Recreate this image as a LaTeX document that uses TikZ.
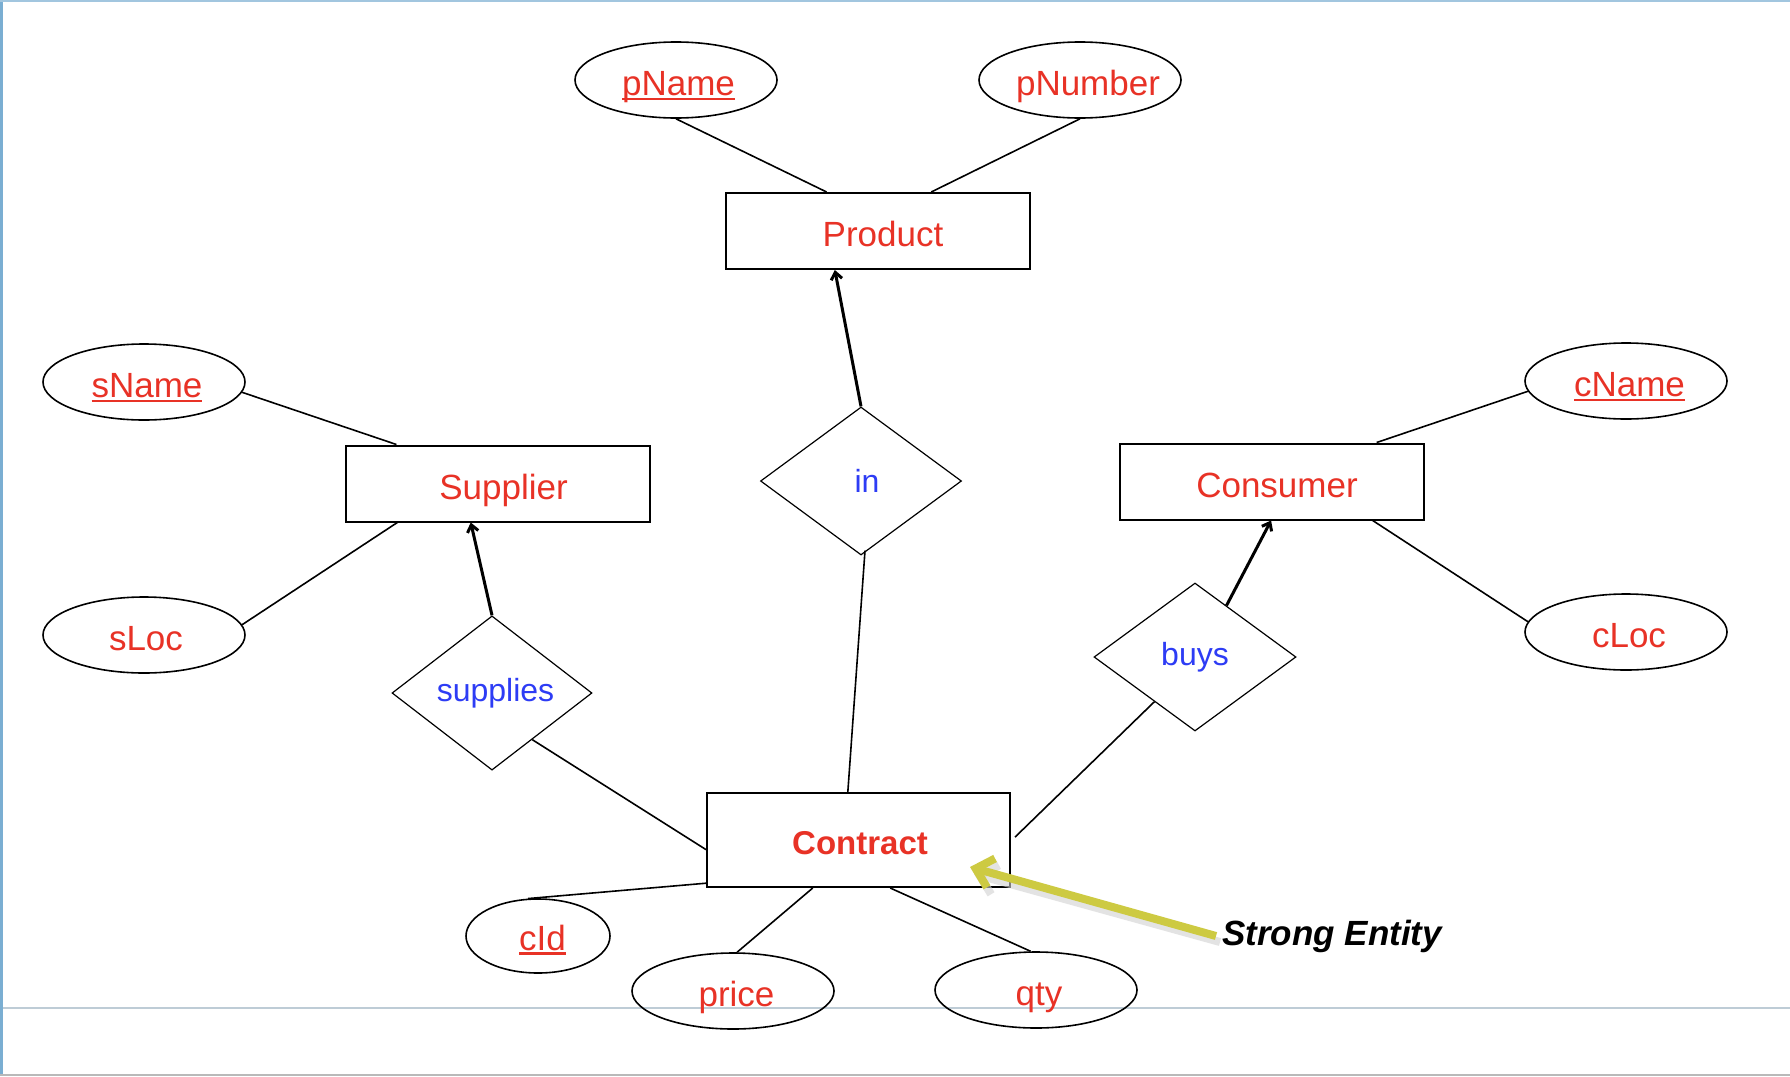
\documentclass[tikz,border=0pt]{standalone}
\usepackage{fontspec}
\setmainfont{Liberation Sans}
\usetikzlibrary{shapes.geometric,arrows.meta,calc}
\definecolor{ered}{RGB}{232,50,38}
\definecolor{rblue}{RGB}{45,60,245}
\definecolor{ayellow}{RGB}{205,202,66}
\definecolor{frameblue}{RGB}{122,174,210}
\definecolor{rulegray}{RGB}{190,204,214}
\newcommand\keyattr[1]{\setbox0\hbox{#1}\rlap{\rule[-4.5pt]{\wd0}{2.5pt}}\box0}
\begin{document}
\begin{tikzpicture}[x=1pt,y=-1pt,
  ent/.style={draw, line width=2pt, rectangle, minimum width=304pt, minimum height=76pt, inner sep=0pt, text=ered, font=\fontsize{35}{40}\selectfont, text height=33pt, text depth=2pt},
  attr/.style={draw, line width=1.6pt, ellipse, minimum width=202pt, minimum height=76pt, inner sep=0pt, text=ered, font=\fontsize{35}{40}\selectfont, text height=33pt, text depth=2pt},
  rel/.style={draw, line width=1.2pt, diamond, minimum width=201pt, minimum height=148pt, inner sep=0pt, text=rblue, font=\fontsize{32}{38}\selectfont},
  link/.style={line width=1.6pt},
  tolink/.style={line width=3pt, -{Straight Barb[length=7pt,width=11pt]}},
]
\fill[white] (0,0) rectangle (1790,1076);
\useasboundingbox (0,0) rectangle (1790,1076);
\fill[frameblue] (0,0) rectangle (3,1076);
\fill[frameblue!70] (0,0) rectangle (1790,2);
\draw[rulegray, line width=1.2pt] (3,1008) -- (1790,1008);
\draw[gray!55, line width=1.5pt] (0,1075) -- (1790,1075);

% entities
\node[ent] (P) at (878,231) {\kern10pt Product};
\node[ent] (S) at (498,483.5) {\kern11pt Supplier};
\node[ent] (Co) at (1272,481.5) {\kern10pt Consumer};
\node[ent, minimum width=303pt, minimum height=94pt, font=\bfseries\fontsize{33}{40}\selectfont, text height=29pt, text depth=1pt] (C) at (858.5,840) {\kern3pt Contract};

% attributes
\node[attr] (pName) at (676,80) {\kern5pt\keyattr{pName}};
\node[attr] (pNumber) at (1080,80) {\makebox[0pt]{\kern16pt pNumber}};
\node[attr] (sName) at (144,382) {\kern6pt\keyattr{sName}};
\node[attr] (sLoc) at (144,635) {\kern4pt sLoc};
\node[attr] (cName) at (1626,381) {\kern7pt\keyattr{cName}};
\node[attr] (cLoc) at (1626,632) {\kern6pt cLoc};
\node[attr, minimum width=144pt, minimum height=74pt, text height=30pt] (cId) at (538,936) {\kern9pt\keyattr{cId}};
\node[attr] (price) at (733,991) {\kern7pt price};
\node[attr] (qty) at (1036,990) {\kern6pt qty};

% relationships
\node[rel] (in) at (861,481) {\kern12pt in};
\node[rel, minimum width=200pt, minimum height=146pt] (sup) at (492,693) {\kern7pt supplies};
\node[rel, minimum width=202pt, minimum height=148pt] (buys) at (1195,657) {buys};

% attribute links
\draw[link] (pName.south) -- ($(P.north west)!0.332!(P.north east)$);
\draw[link] (pNumber.south) -- ($(P.north west)!0.674!(P.north east)$);
\draw[link] (sName.-6) -- ($(S.north west)!0.168!(S.north east)$);
\draw[link] (sLoc.6) -- ($(S.south west)!0.171!(S.south east)$);
\draw[link] (cName.186) -- ($(Co.north west)!0.842!(Co.north east)$);
\draw[link] (cLoc.174) -- ($(Co.south west)!0.829!(Co.south east)$);
\draw[link] ($(C.north west)!0.95!(C.south west)$) -- (cId.105);
\draw[link] ($(C.south west)!0.35!(C.south east)$) -- (price.84);
\draw[link] ($(C.south west)!0.604!(C.south east)$) -- (qty.98);

% relationship links
\draw[tolink] (in.north) -- ($(P.south west)!0.359!(P.south east)$);
\draw[link] ($(in.south)+(4,-5)$) -- ($(C.north west)!0.465!(C.north east)$);
\draw[tolink] (sup.north) -- ($(S.south west)!0.411!(S.south east)$);
\draw[link] ($(sup.east)!0.6!(sup.south)$) -- ($(C.north west)!0.6!(C.south west)$);
\draw[tolink] ($(buys.north)!0.31!(buys.east)$) -- ($(Co.south west)!0.497!(Co.south east)$);
\draw[link] ($(buys.west)!0.6!(buys.south)$) -- ($(C.north east)!0.47!(C.south east)+(4,0)$);

% annotation
\node[anchor=west, inner sep=0pt, font=\bfseries\itshape\fontsize{35}{40}\selectfont] (SE) at (1222,936) {Strong Entity};
\coordinate (tip) at (970,867);
\draw[black!18, line width=8pt, opacity=0.6, -{Straight Barb[length=16pt,width=30pt]}] ($(SE.west)+(-2,6)$) -- ($(tip)+(4,7)$);
\draw[ayellow, line width=8pt, -{Straight Barb[length=16pt,width=30pt]}] ($(SE.west)+(-6,0)$) -- (tip);
\end{tikzpicture}
\end{document}
